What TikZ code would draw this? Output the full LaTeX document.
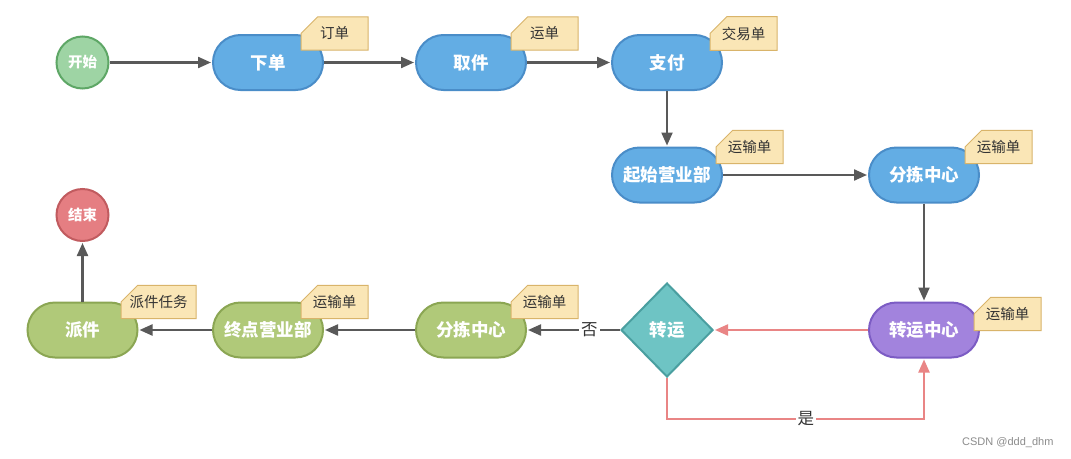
\documentclass[tikz,border=0pt]{standalone}
\usepackage{fontspec}
\newfontfamily\cjk{Noto Sans CJK SC}
\setsansfont{Liberation Sans}
\usetikzlibrary{shapes.misc,shapes.geometric,arrows.meta}
\definecolor{gstartF}{HTML}{9ED4A4}
\definecolor{gstartD}{HTML}{5EA766}
\definecolor{blueF}{HTML}{63ADE4}
\definecolor{blueD}{HTML}{4A8DC8}
\definecolor{noteF}{HTML}{FAE6B6}
\definecolor{noteD}{HTML}{D9B46A}
\definecolor{purpF}{HTML}{A283DD}
\definecolor{purpD}{HTML}{7C5CC4}
\definecolor{diaF}{HTML}{6EC4C4}
\definecolor{diaD}{HTML}{4A9FA0}
\definecolor{oliveF}{HTML}{B0C979}
\definecolor{oliveD}{HTML}{8BA653}
\definecolor{endF}{HTML}{E57E82}
\definecolor{endD}{HTML}{C15B5F}
\definecolor{arrG}{HTML}{595959}
\definecolor{arrR}{HTML}{E98585}
\definecolor{txt}{HTML}{333333}
\begin{document}
\begin{tikzpicture}[x=1pt,y=-1pt,
  lbl/.style={font=\cjk\bfseries\fontsize{17.5}{19}\selectfont, text=white},
  stadium/.style={lbl, draw, line width=2pt, rounded corners=27.5pt, minimum width=110pt, minimum height=55pt, inner sep=0pt},
  bluebox/.style={stadium, fill=blueF, draw=blueD},
  olivebox/.style={stadium, fill=oliveF, draw=oliveD},
  purplebox/.style={stadium, fill=purpF, draw=purpD},
  roundnode/.style={lbl, circle, line width=2pt, minimum size=52pt, inner sep=0pt, font=\cjk\bfseries\fontsize{14.5}{16}\selectfont},
  note/.style={chamfered rectangle, chamfered rectangle corners=north west, chamfered rectangle xsep=8pt, chamfered rectangle ysep=10pt,
    draw=noteD, fill=noteF, line width=1pt, minimum width=67pt, minimum height=33pt, inner sep=0pt,
    font=\cjk\fontsize{14.5}{16}\selectfont, text=txt},
  garr/.style={draw=arrG, line width=2.2pt, -{Triangle[length=13pt,width=11pt]}, shorten >=1pt},
  rarr/.style={draw=arrR, line width=2.2pt, -{Triangle[length=13pt,width=11pt]}, shorten >=1pt},
  edgelbl/.style={font=\cjk\fontsize{16.5}{18}\selectfont, text=txt, fill=white, inner sep=2pt}
]
\useasboundingbox (0,0) rectangle (1071,458);
\fill[white] (0,0) rectangle (1071,458);

% nodes
\node[roundnode, fill=gstartF, draw=gstartD] (start) at (82.5,62.5) {开始};
\node[bluebox] (xiadan) at (268,62.5) {下单};
\node[bluebox] (qujian) at (471,62.5) {取件};
\node[bluebox] (zhifu) at (667,62.5) {支付};
\node[bluebox] (qishi) at (667,175) {起始营业部};
\node[bluebox] (fenjian1) at (924,175) {分拣中心};
\node[purplebox] (zhuanyunzx) at (924,330) {转运中心};
\node[diamond, lbl, fill=diaF, draw=diaD, line width=2pt, minimum width=92pt, minimum height=94pt, inner sep=0pt] (zhuanyun) at (667,330) {转运};
\node[olivebox] (fenjian2) at (471,330) {分拣中心};
\node[olivebox] (zhongdian) at (268,330) {终点营业部};
\node[olivebox] (paijian) at (82.5,330) {派件};
\node[roundnode, fill=endF, draw=endD] (end) at (82.5,215) {结束};

% notes
\node[note] (n1) at (334.5,33.5) {订单};
\node[note] (n2) at (544.5,33.5) {运单};
\node[note] (n3) at (743.5,33.5) {交易单};
\node[note] (n4) at (749.5,147) {运输单};
\node[note] (n5) at (998.5,147) {运输单};
\node[note] (n6) at (1007.5,314) {运输单};
\node[note] (n7) at (544.5,302) {运输单};
\node[note] (n8) at (334.5,302) {运输单};
\node[note, minimum width=75pt] (n9) at (158.5,302) {派件任务};

% connectors
\draw[garr] (start) -- (xiadan);
\draw[garr] (xiadan) -- (qujian);
\draw[garr] (qujian) -- (zhifu);
\draw[garr] (zhifu) -- (qishi);
\draw[garr] (qishi) -- (fenjian1);
\draw[garr] (fenjian1) -- (zhuanyunzx);
\draw[rarr] (zhuanyunzx) -- (zhuanyun);
\coordinate (c1) at (667,419);
\coordinate (c2) at (924,419);
\draw[rarr] (zhuanyun.south) -- (c1) -- node[edgelbl, pos=0.54] {是} (c2) -- (zhuanyunzx.south);
\draw[garr] (zhuanyun.west) -- node[edgelbl, pos=0.33] {否} (fenjian2);
\draw[garr] (fenjian2) -- (zhongdian);
\draw[garr] (zhongdian) -- (paijian);
\draw[garr] (paijian) -- (end);

\node[font=\sffamily\fontsize{11}{13}\selectfont, text=black!45, anchor=east] (wm) at (1057,443) {CSDN @ddd\_dhm};
\end{tikzpicture}
\end{document}
